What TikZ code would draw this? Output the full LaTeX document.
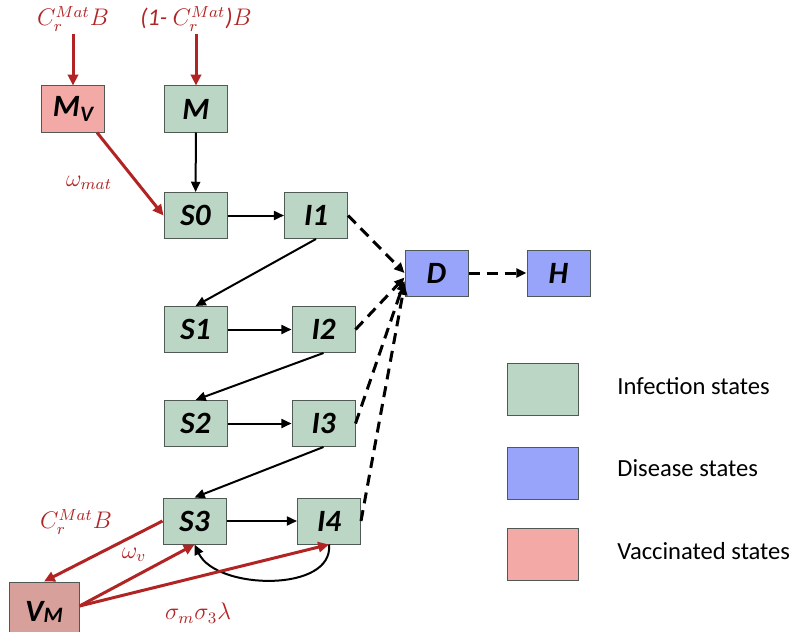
\documentclass[tikz,border=0pt]{standalone}
\usepackage{amsmath}
\usepackage{fontspec}
\setmainfont{Carlito}
\usepackage{tikz}
\usetikzlibrary{arrows.meta,positioning}
\definecolor{infgreen}{RGB}{187,214,197}
\definecolor{disblue}{RGB}{152,163,250}
\definecolor{vacpink}{RGB}{243,170,167}
\definecolor{vacdark}{RGB}{216,160,155}
\definecolor{flowred}{RGB}{178,36,36}
\definecolor{boxline}{RGB}{80,90,85}
\tikzset{
  cbox/.style={rectangle, draw=boxline, line width=0.5pt, minimum width=31.5pt, minimum height=23pt, inner sep=0pt, font=\fontsize{15.5}{17}\selectfont\bfseries\itshape},
  infbox/.style={cbox, fill=infgreen},
  disbox/.style={cbox, fill=disblue},
  vacbox/.style={cbox, fill=vacpink},
  legbox/.style={rectangle, draw=boxline, line width=0.5pt, minimum width=35.5pt, minimum height=26pt},
  legtext/.style={anchor=west, inner sep=0pt, font=\fontsize{12.3}{14}\selectfont},
  ratelab/.style={text=flowred, inner sep=1pt, font=\fontsize{12}{14}\selectfont},
  flow/.style={-{Triangle[length=1.8mm,width=1.6mm]}, line width=1pt, black},
  vacflow/.style={-{Triangle[length=1.9mm,width=1.8mm]}, line width=1.5pt, flowred},
  disflow/.style={-{Triangle[length=1.8mm,width=1.6mm]}, line width=1.5pt, dash pattern=on 5.5pt off 3.5pt, black}
}
\begin{document}
\begin{tikzpicture}[x=0.5pt,y=-0.5pt]
  \useasboundingbox (0,0) rectangle (796,631);
  % maternal entry
  \node[ratelab] (bmv) at (73,19) {$C_r^{Mat}B$};
  \node[ratelab] (bm) at (196,19) {\textit{(1-}\ $C_r^{Mat}$\textit{)}$B$};
  \node[vacbox] (mv) at (73,109) {M\raisebox{-2.5pt}{\fontsize{11}{11}\selectfont V}};
  \node[infbox] (m) at (196,109) {M};
  \draw[vacflow] (bmv) -- (mv);
  \draw[vacflow] (bm) -- (m);

  % infection chain
  \node[infbox] (s0) at (195.5,215.5) {S0};
  \node[infbox] (i1) at (316,215.5) {I1};
  \node[infbox] (s1) at (195.5,329.5) {S1};
  \node[infbox] (i2) at (323.5,329.5) {I2};
  \node[infbox] (s2) at (195.5,423.5) {S2};
  \node[infbox] (i3) at (323.5,423.5) {I3};
  \node[infbox] (s3) at (194.5,521) {S3};
  \node[infbox] (i4) at (329,521) {I4};
  \draw[flow] (m) -- (s0);
  \draw[flow] (s0) -- (i1);
  \draw[flow] (i1.south) -- (s1.north);
  \draw[flow] (s1) -- (i2);
  \draw[flow] (i2.south) -- (s2.north);
  \draw[flow] (s2) -- (i3);
  \draw[flow] (i3.south) -- (s3.north);
  \draw[flow] (s3) -- (i4);
  \draw[flow] (i4.south) .. controls +(5,48) and +(22,46) .. (s3.south);

  % disease states
  \node[disbox] (d) at (436.5,273) {D};
  \node[disbox] (h) at (558.5,273) {H};
  \draw[disflow] (i1.east) -- (d.west);
  \draw[disflow] (i2.east) -- (d.188);
  \draw[disflow] (i3.east) -- (d.194);
  \draw[disflow] (i4.east) -- (d.200);
  \draw[disflow] (d) -- (h);

  % vaccination
  \node[cbox, fill=vacdark, minimum width=35pt, minimum height=30pt] (vm) at (44,612) {V\raisebox{-0.5pt}{\fontsize{11}{11}\selectfont M}};
  \draw[vacflow] ([xshift=-4pt]mv.south east) -- (s0.west);
  \node[ratelab] (womat) at (89,183) {$\omega_{mat}$};
  \draw[vacflow] (s3.west) -- (vm.north);
  \draw[vacflow] ([yshift=3pt]vm.east) -- (s3.south);
  \draw[vacflow] ([yshift=3pt]vm.east) -- (i4.south);
  \node[ratelab] (lcr) at (76,522) {$C_r^{Mat}B$};
  \node[ratelab] (lwv) at (134,555) {$\omega_v$};
  \node[ratelab] (lsig) at (198,613) {$\sigma_m\sigma_3\lambda$};

  % legend
  \node[legbox, fill=infgreen] (kinf) at (542.5,389) {};
  \node[legbox, fill=disblue] (kdis) at (542.5,473) {};
  \node[legbox, fill=vacpink] (kvac) at (542.5,554) {};
  \node[legtext] (tinf) at (617,386) {Infection states};
  \node[legtext] (tdis) at (617,468) {Disease states};
  \node[legtext] (tvac) at (617,551) {Vaccinated states};
\end{tikzpicture}
\end{document}
